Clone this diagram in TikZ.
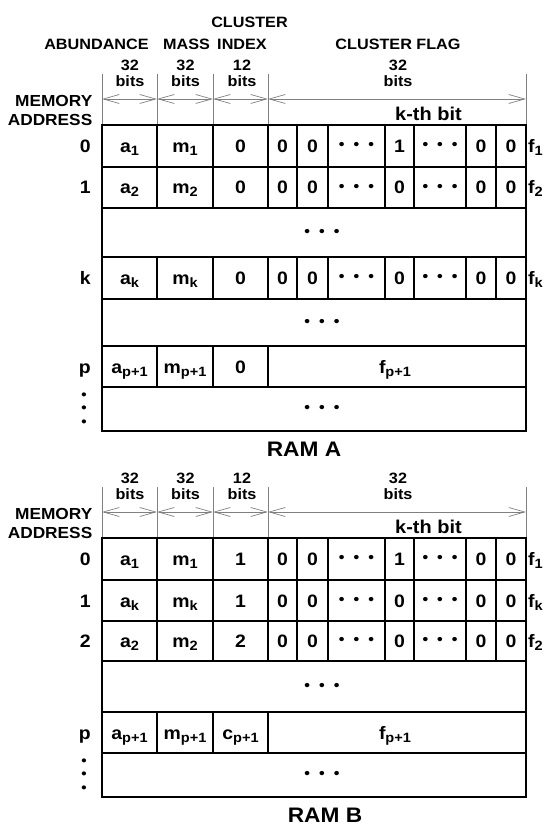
\documentclass[tikz,border=0pt]{standalone}
\usepackage{fontspec}
\setmainfont{Liberation Sans}[FakeStretch=1.08]
\usetikzlibrary{arrows.meta}

\newcommand{\fs}[1]{\fontsize{#1}{#1}\selectfont\bfseries}
\newcommand{\lowsub}[1]{\raisebox{-3pt}{\fontsize{13.5}{13.5}\selectfont\bfseries #1}}
\newcommand{\rowdots}{\fontsize{15}{15}\selectfont\bfseries •\hspace{9pt}•\hspace{9pt}•}

\tikzset{
  cell/.style={font=\fs{18}, inner sep=0pt, text height=13pt, text depth=0pt},
  addr/.style={cell, anchor=east},
  flag/.style={cell, anchor=west},
  dots/.style={inner sep=0pt},
  vdots/.style={inner sep=0pt, align=center, font=\fontsize{14}{13.5}\selectfont\bfseries},
  hdr/.style={font=\fs{15}, inner sep=0pt},
  bitwidth/.style={font=\fontsize{15}{16}\selectfont\bfseries, inner sep=0pt, align=center},
  memaddr/.style={font=\fontsize{16}{19}\selectfont\bfseries, inner sep=0pt, align=right, anchor=east},
  kbit/.style={font=\fs{18.5}, inner sep=0pt},
  title/.style={font=\fs{21}, inner sep=0pt},
  frame/.style={line width=2pt},
  grid/.style={line width=1.3pt},
  tick/.style={draw=gray, line width=0.7pt},
  dim/.style={tick, {Straight Barb[length=16pt,width=9pt]}-{Straight Barb[length=16pt,width=9pt]}},
}

% widths of the fields above a table: name, top of table
\newcommand{\ramhead}[2]{
  \foreach \xx in {102,157,213,268,526}
    \draw[tick] (\xx,#2-51) -- (\xx,#2);
  \coordinate (#1-t0) at (102,#2-26);
  \coordinate (#1-t1) at (157,#2-26);
  \coordinate (#1-t2) at (213,#2-26);
  \coordinate (#1-t3) at (268,#2-26);
  \coordinate (#1-t4) at (526,#2-26);
  \draw[dim] (#1-t0) -- (#1-t1);
  \draw[dim] (#1-t1) -- (#1-t2);
  \draw[dim] (#1-t2) -- (#1-t3);
  \draw[dim] (#1-t3) -- (#1-t4);
  \node[bitwidth] (#1-wa) at (130,#2-52) {32\\bits};
  \node[bitwidth] (#1-wm) at (185.5,#2-52) {32\\bits};
  \node[bitwidth] (#1-wc) at (242,#2-52) {12\\bits};
  \node[bitwidth] (#1-wf) at (398,#2-52) {32\\bits};
  \node[memaddr] (#1-mem) at (92.5,#2-15) {MEMORY\\ADDRESS};
  \node[kbit] (#1-kth) at (428.5,#2-11.5) {k-th bit};
}

% full row: name, top, bottom, address, a, m, c, k-th bit, f
\newcommand{\bitrow}[9]{
  \foreach \xx in {157,213,268,297,328,385,414,466,496}
    \draw[grid] (\xx,#2) -- (\xx,#3);
  \draw[grid] (102,#3) -- (526,#3);
  \pgfmathsetmacro{\yc}{(#2+#3)/2}
  \node[addr] (#1-addr) at (91,\yc) {#4};
  \node[cell] (#1-a) at (129.5,\yc) {#5};
  \node[cell] (#1-m) at (185,\yc) {#6};
  \node[cell] (#1-c) at (240.5,\yc) {#7};
  \node[cell] (#1-b1) at (282.5,\yc) {0};
  \node[cell] (#1-b2) at (312.5,\yc) {0};
  \node[dots] (#1-d1) at (356.5,\yc) {\rowdots};
  \node[cell] (#1-k) at (399.5,\yc) {#8};
  \node[dots] (#1-d2) at (440,\yc) {\rowdots};
  \node[cell] (#1-b3) at (481,\yc) {0};
  \node[cell] (#1-b4) at (511,\yc) {0};
  \node[flag] (#1-f) at (528,\yc) {#9};
}

% row p: name, top, bottom, address, a, m, c, f
\newcommand{\prow}[8]{
  \foreach \xx in {157,213,268}
    \draw[grid] (\xx,#2) -- (\xx,#3);
  \draw[grid] (102,#3) -- (526,#3);
  \pgfmathsetmacro{\yc}{(#2+#3)/2}
  \node[addr] (#1-addr) at (91,\yc) {#4};
  \node[cell] (#1-a) at (129.5,\yc) {#5};
  \node[cell] (#1-m) at (185,\yc) {#6};
  \node[cell] (#1-c) at (240.5,\yc) {#7};
  \node[cell] (#1-f) at (395,\yc) {#8};
}

% skipped rows: name, top, bottom
\newcommand{\dotrow}[3]{
  \draw[grid] (102,#3) -- (526,#3);
  \node[dots] (#1) at (322,{(#2+#3)/2}) {\rowdots};
}

\begin{document}
\begin{tikzpicture}[x=1pt, y=-1pt]
\useasboundingbox (0,0) rectangle (548,826);

% RAM A
\node[hdr] (hclu) at (249.5,22.5) {CLUSTER};
\node[hdr] (habu) at (96.5,44) {ABUNDANCE};
\node[hdr] (hmas) at (186.5,44) {MASS};
\node[hdr] (hind) at (242,44) {INDEX};
\node[hdr] (hfla) at (398,44) {CLUSTER FLAG};
\ramhead{A}{125}
\bitrow{A0}{125}{167}{0}{a\lowsub{1}}{m\lowsub{1}}{0}{1}{f\lowsub{1}}
\bitrow{A1}{167}{208}{1}{a\lowsub{2}}{m\lowsub{2}}{0}{0}{f\lowsub{2}}
\dotrow{A-skip1}{208}{257}
\bitrow{Ak}{257}{299}{k}{a\lowsub{k}}{m\lowsub{k}}{0}{0}{f\lowsub{k}}
\dotrow{A-skip2}{299}{346}
\prow{Ap}{346}{387}{p}{a\lowsub{p+1}}{m\lowsub{p+1}}{0}{f\lowsub{p+1}}
\dotrow{A-skip3}{387}{431}
\node[vdots] (A-vd) at (84,409.5) {•\\•\\•};
\draw[frame] (102,125) rectangle (526,431);
\node[title] (ramA) at (304,449) {RAM A};

% RAM B
\ramhead{B}{538}
\bitrow{B0}{538}{580}{0}{a\lowsub{1}}{m\lowsub{1}}{1}{1}{f\lowsub{1}}
\bitrow{B1}{580}{621}{1}{a\lowsub{k}}{m\lowsub{k}}{1}{0}{f\lowsub{k}}
\bitrow{B2}{621}{661}{2}{a\lowsub{2}}{m\lowsub{2}}{2}{0}{f\lowsub{2}}
\dotrow{B-skip1}{661}{712}
\prow{Bp}{712}{753}{p}{a\lowsub{p+1}}{m\lowsub{p+1}}{c\lowsub{p+1}}{f\lowsub{p+1}}
\dotrow{B-skip2}{753}{797}
\node[vdots] (B-vd) at (84,775.5) {•\\•\\•};
\draw[frame] (102,538) rectangle (526,797);
\node[title] (ramB) at (325,815) {RAM B};
\end{tikzpicture}
\end{document}
